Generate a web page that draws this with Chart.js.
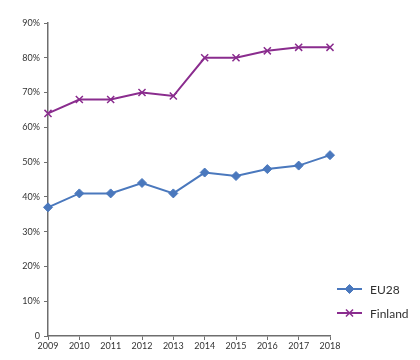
<!DOCTYPE html>
<html>
<head>
<meta charset="utf-8">
<script src="https://cdn.jsdelivr.net/npm/chart.js@4/dist/chart.umd.min.js"></script>
<style>
  html, body { margin: 0; padding: 0; background: #fff; }
  #wrap { width: 420px; height: 360px; }
</style>
</head>
<body>
<div id="wrap"><canvas id="myChart" width="420" height="360"></canvas></div>
<script>
const years = ['2009','2010','2011','2012','2013','2014','2015','2016','2017','2018'];
const eu28 = [37, 41, 41, 44, 41, 47, 46, 48, 49, 52];
const finland = [64, 68, 68, 70, 69, 80, 80, 82, 83, 83];
const yTicks = [0, 10, 20, 30, 40, 50, 60, 70, 80, 90];

const blue = '#4a78bd';
const purple = '#8a2c8e';
const axisGrey = '#6e6e6e';

Chart.defaults.font.family = "Lato, 'Open Sans', sans-serif";
Chart.defaults.color = '#333333';

// legend at the lower right: short line with the series marker, then the name
const sideLegend = {
    id: 'sideLegend',
    afterDraw(chart) {
        const c = chart.ctx;
        const x0 = 337, x1 = 362;
        const rows = [289, 313];
        chart.data.datasets.forEach((ds, i) => {
            const y = rows[i];
            c.save();
            c.strokeStyle = ds.borderColor;
            c.fillStyle = ds.borderColor;
            c.lineWidth = 2;
            c.beginPath();
            c.moveTo(x0, y);
            c.lineTo(x1, y);
            c.stroke();
            c.lineWidth = ds.pointBorderWidth || 1;
            Chart.helpers.drawPoint(c, {
                pointStyle: ds.pointStyle,
                radius: ds.pointRadius,
                borderWidth: ds.pointBorderWidth || 1,
                rotation: 0
            }, (x0 + x1) / 2, y);
            c.fillStyle = '#303030';
            c.font = "12px Lato, 'Open Sans', sans-serif";
            c.textBaseline = 'middle';
            c.fillText(ds.label, 370, y + 1);
            c.restore();
        });
    }
};

const ctx = document.getElementById('myChart').getContext('2d');
const myChart = new Chart(ctx, {
    type: 'line',
    data: {
        labels: years,
        datasets: [{
            label: 'EU28',
            data: eu28,
            borderColor: blue,
            backgroundColor: blue,
            borderWidth: 2,
            pointStyle: 'rectRot',
            pointRadius: 4.5,
            pointBorderWidth: 1,
            pointBackgroundColor: blue,
            pointBorderColor: blue,
            tension: 0
        }, {
            label: 'Finland',
            data: finland,
            borderColor: purple,
            backgroundColor: purple,
            borderWidth: 2,
            pointStyle: 'crossRot',
            pointRadius: 5,
            pointBorderWidth: 1.5,
            pointBorderColor: purple,
            tension: 0
        }]
    },
    options: {
        responsive: false,
        animation: false,
        layout: {
            padding: { left: 0, top: 23, right: 90, bottom: 0 }
        },
        scales: {
            x: {
                offset: false,
                grid: {
                    drawOnChartArea: false,
                    drawTicks: true,
                    tickLength: 4,
                    color: axisGrey
                },
                border: { color: axisGrey, width: 1.5 },
                ticks: {
                    font: { size: 9 },
                    padding: 1,
                    maxRotation: 0,
                    autoSkip: false
                },
                afterFit: (scale) => { scale.height = 24; }
            },
            y: {
                min: 0,
                max: 90,
                afterBuildTicks: (scale) => {
                    scale.ticks = yTicks.map(v => ({ value: v }));
                },
                grid: {
                    drawOnChartArea: false,
                    drawTicks: true,
                    tickLength: 4,
                    color: axisGrey
                },
                border: { color: axisGrey, width: 1.5 },
                ticks: {
                    font: { size: 9 },
                    padding: 4,
                    callback: (v) => v === 0 ? '0' : v + '%'
                },
                afterFit: (scale) => { scale.width = 48; }
            }
        },
        plugins: {
            legend: { display: false },
            tooltip: { enabled: false }
        }
    },
    plugins: [sideLegend]
});
</script>
</body>
</html>
